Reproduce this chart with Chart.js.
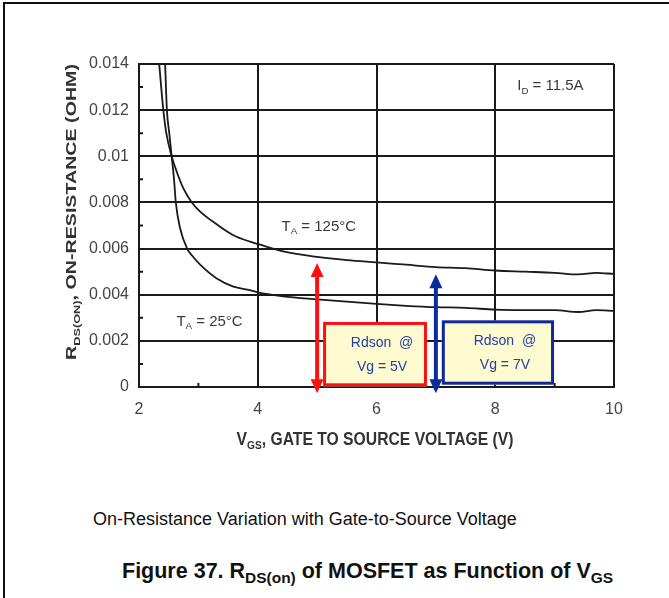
<!DOCTYPE html>
<html>
<head>
<meta charset="utf-8">
<script src="https://cdn.jsdelivr.net/npm/chart.js@4/dist/chart.umd.min.js"></script>
<style>
  html, body { margin: 0; padding: 0; background: #fff; }
  body { width: 669px; height: 598px; position: relative; overflow: hidden; font-family: "Liberation Sans", Arial, sans-serif; }
  .frame { position: absolute; left: 3px; top: 2px; right: -10px; bottom: -10px; border-top: 2px solid #111; border-left: 2px solid #111; }
  #plot { position: absolute; left: 0; top: 0; }
  .caption { position: absolute; left: 93px; top: 510px; font-size: 18px; line-height: 1; color: #111; white-space: nowrap; }
  .figure { position: absolute; left: 122px; top: 561px; font-size: 21.5px; line-height: 1; font-weight: bold; color: #111; white-space: nowrap; }
  .figure sub { font-size: 72%; vertical-align: -0.3em; line-height: 0; }
</style>
</head>
<body>
<div class="frame"></div>
<canvas id="plot" width="669" height="470"></canvas>
<div class="caption">On-Resistance Variation with Gate-to-Source Voltage</div>
<div class="figure">Figure 37. R<sub>DS(on)</sub> of MOSFET as Function of V<sub>GS</sub></div>
<script>
// R_DS(on) vs V_GS, two junction temperatures
const vgs125 = [2.34, 2.41, 2.46, 2.55, 2.64, 2.75, 2.89, 3.03, 3.31, 3.59, 3.87, 4.0, 4.43, 5.0, 5.5, 6.0, 6.5, 7.0, 7.5, 8.0, 8.5, 9.0, 9.4, 9.7, 10.0];
const rds125 = [0.0140, 0.0120, 0.0110, 0.0100, 0.0093, 0.0086, 0.0080, 0.0076, 0.00705, 0.00658, 0.0063, 0.0062, 0.00588, 0.00564, 0.0055, 0.0054, 0.0053, 0.0052, 0.00515, 0.00505, 0.0050, 0.00495, 0.00488, 0.00495, 0.0049];

const vgs25 = [2.44, 2.47, 2.51, 2.55, 2.59, 2.62, 2.69, 2.81, 2.9, 3.03, 3.31, 3.59, 3.87, 4.0, 4.43, 5.0, 5.5, 6.0, 6.5, 7.0, 7.5, 8.0, 8.5, 9.0, 9.4, 9.7, 10.0];
const rds25 = [0.0140, 0.0120, 0.0110, 0.0100, 0.0090, 0.0080, 0.0069, 0.0060, 0.00568, 0.0053, 0.0047, 0.00435, 0.0042, 0.0041, 0.00393, 0.0038, 0.0037, 0.0036, 0.00352, 0.00346, 0.00343, 0.00335, 0.00333, 0.00333, 0.00325, 0.00333, 0.0033];

const xTicks = [2, 4, 6, 8, 10];
const yTicks = [0, 0.002, 0.004, 0.006, 0.008, 0.01, 0.012, 0.014];
const yTickLabels = ['0', '0.002', '0.004', '0.006', '0.008', '0.01', '0.012', '0.014'];
const xMinor = [3, 5, 7, 9];
const yMinor = [0.001, 0.003, 0.005, 0.007, 0.009, 0.011, 0.013];

// gate voltages marked by the arrows, and where each arrow tops out
const markVg = [5, 7];
const markTop = [0.00537, 0.00489];
const markBottom = -0.00027;

const FONT = '"Liberation Sans", Arial, sans-serif';
const INK = '#1a1a1a';

const toPoints = (xs, ys) => xs.map((x, i) => ({ x, y: ys[i] }));

// text made of [string, isSubscript] parts
function richWidth(ctx, parts, size, weight) {
  let w = 0;
  for (const [t, sub] of parts) {
    ctx.font = `${weight} ${sub ? size * 0.65 : size}px ${FONT}`;
    w += ctx.measureText(t).width;
  }
  return w;
}
function drawRich(ctx, parts, x, baseline, size, weight) {
  let cx = x;
  for (const [t, sub] of parts) {
    ctx.font = `${weight} ${sub ? size * 0.65 : size}px ${FONT}`;
    ctx.fillText(t, cx, sub ? baseline + size * 0.22 : baseline);
    cx += ctx.measureText(t).width;
  }
}
// centred on (cx, cy), stretched to a given length, optionally rotated
function drawTitle(ctx, parts, cx, cy, size, length, angle) {
  const w = richWidth(ctx, parts, size, 'bold');
  ctx.save();
  ctx.translate(cx, cy);
  ctx.rotate(angle);
  ctx.scale(length / w, 1);
  ctx.textBaseline = 'alphabetic';
  ctx.textAlign = 'left';
  drawRich(ctx, parts, -w / 2, size * 0.358, size, 'bold');
  ctx.restore();
}

const notes = [
  { parts: [['I', false], ['D', true], [' = 11.5A', false]], x: 8.37, y: 0.01309 },
  { parts: [['T', false], ['A', true], [' = 125°C', false]], x: 4.40, y: 0.00701 },
  { parts: [['T', false], ['A', true], [' = 25°C', false]], x: 2.63, y: 0.00289 }
];

const boxes = [
  { x0: 5.10, x1: 6.85, y0: 0.00003, y1: 0.00282, edge: '#ff1010', vg: 'Vg = 5V' },
  { x0: 7.10, x1: 8.99, y0: 0.00010, y1: 0.00289, edge: '#10289a', vg: 'Vg = 7V' }
];
const arrowColors = ['#ff1010', '#0c2c9c'];

const minorTicks = {
  id: 'minorTicks',
  afterDatasetsDraw(chart) {
    const { ctx, chartArea: a, scales: { x, y } } = chart;
    ctx.save();
    ctx.strokeStyle = INK;
    ctx.lineWidth = 2;
    ctx.beginPath();
    yMinor.forEach(v => { const py = y.getPixelForValue(v); ctx.moveTo(a.left, py); ctx.lineTo(a.left + 4, py); });
    xMinor.forEach(v => { const px = x.getPixelForValue(v); ctx.moveTo(px, a.bottom); ctx.lineTo(px, a.bottom - 4); });
    ctx.stroke();
    ctx.restore();
  }
};

const annotations = {
  id: 'annotations',
  afterDraw(chart) {
    const { ctx, scales: { x, y } } = chart;
    ctx.save();

    // curve labels
    ctx.fillStyle = '#3a3a3a';
    ctx.textBaseline = 'alphabetic';
    notes.forEach(n => drawRich(ctx, n.parts, x.getPixelForValue(n.x), y.getPixelForValue(n.y) + 15 * 0.358, 15, 'normal'));

    // callout boxes
    boxes.forEach(b => {
      const l = x.getPixelForValue(b.x0), r = x.getPixelForValue(b.x1);
      const t = y.getPixelForValue(b.y1), btm = y.getPixelForValue(b.y0);
      ctx.fillStyle = '#fdfbcf';
      ctx.fillRect(l, t, r - l, btm - t);
      ctx.strokeStyle = b.edge;
      ctx.lineWidth = 3;
      ctx.strokeRect(l + 1.5, t + 1.5, r - l - 3, btm - t - 3);
      ctx.fillStyle = '#2341a8';
      ctx.font = `14px ${FONT}`;
      ctx.textAlign = 'center';
      ctx.textBaseline = 'middle';
      const cx = (l + r) / 2 + 7;
      ctx.fillText('Rdson  @', cx, t + 21);
      ctx.fillText(b.vg, cx, t + 45);
      ctx.textAlign = 'left';
    });

    // double-headed arrows at the marked gate voltages
    markVg.forEach((vg, i) => {
      const px = x.getPixelForValue(vg);
      const top = y.getPixelForValue(markTop[i]);
      const bot = y.getPixelForValue(markBottom);
      ctx.strokeStyle = ctx.fillStyle = arrowColors[i];
      ctx.lineWidth = 4;
      ctx.beginPath();
      ctx.moveTo(px, top + 10);
      ctx.lineTo(px, bot - 10);
      ctx.stroke();
      ctx.beginPath();
      ctx.moveTo(px, top); ctx.lineTo(px - 6.5, top + 14); ctx.lineTo(px + 6.5, top + 14); ctx.closePath();
      ctx.moveTo(px, bot); ctx.lineTo(px - 6.5, bot - 14); ctx.lineTo(px + 6.5, bot - 14); ctx.closePath();
      ctx.fill();
    });

    // axis titles
    ctx.fillStyle = '#333';
    drawTitle(ctx, [['V', false], ['GS', true], [', GATE TO SOURCE VOLTAGE (V)', false]], 375, 439, 18, 277, 0);
    drawTitle(ctx, [['R', false], ['DS(ON)', true], [', ON-RESISTANCE (OHM)', false]], 71, 212, 15, 296, -Math.PI / 2);
    ctx.restore();
  }
};

new Chart(document.getElementById('plot').getContext('2d'), {
  type: 'line',
  data: {
    datasets: [
      { label: 'TA = 125°C', data: toPoints(vgs125, rds125) },
      { label: 'TA = 25°C', data: toPoints(vgs25, rds25) }
    ].map(d => Object.assign(d, {
      borderColor: INK,
      borderWidth: 1.8,
      pointRadius: 0,
      fill: false,
      cubicInterpolationMode: 'monotone'
    }))
  },
  options: {
    responsive: false,
    devicePixelRatio: 1,
    animation: false,
    layout: { padding: { left: 0, top: 64, right: 55, bottom: 0 } },
    plugins: { legend: { display: false }, tooltip: { enabled: false } },
    scales: {
      x: {
        type: 'linear',
        min: 2,
        max: 10,
        afterBuildTicks: s => { s.ticks = xTicks.map(v => ({ value: v })); },
        afterFit: s => { s.height = 83; },
        grid: { color: INK, lineWidth: 2, drawTicks: false },
        border: { color: INK, width: 2 },
        ticks: { padding: 13, color: '#444', font: { family: FONT, size: 16 } }
      },
      y: {
        min: 0,
        max: 0.014,
        afterBuildTicks: s => { s.ticks = yTicks.map(v => ({ value: v })); },
        afterFit: s => { s.width = 139; },
        grid: { color: INK, lineWidth: 2, drawTicks: false },
        border: { color: INK, width: 2 },
        ticks: {
          padding: 10,
          color: '#444',
          font: { family: FONT, size: 16 },
          callback: v => yTickLabels[yTicks.indexOf(v)]
        }
      }
    }
  },
  plugins: [minorTicks, annotations]
});
</script>
</body>
</html>
